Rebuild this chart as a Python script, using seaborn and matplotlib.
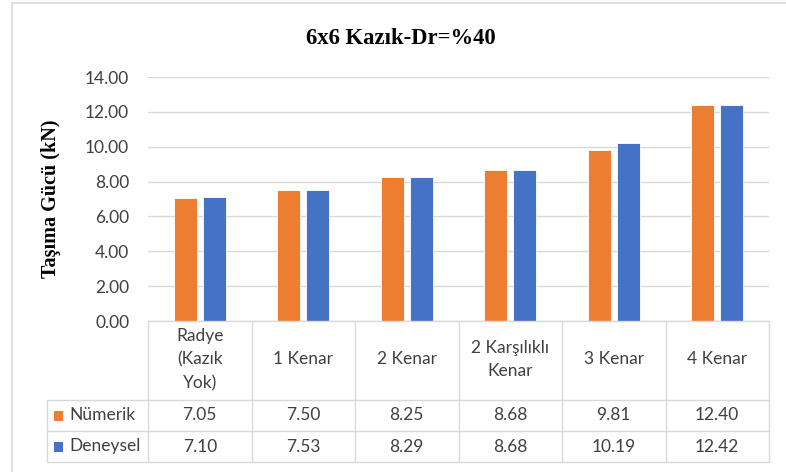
import matplotlib
matplotlib.use("Agg")
import matplotlib.pyplot as plt
import matplotlib.transforms as mtransforms
from matplotlib.patches import Rectangle
from matplotlib.lines import Line2D
import numpy as np
import pandas as pd
import seaborn as sns

# Data
categories = ["Radye\n(Kazık\nYok)", "1 Kenar", "2 Kenar", "2 Karşılıklı\nKenar", "3 Kenar", "4 Kenar"]
numerik = [7.05, 7.50, 8.25, 8.68, 9.81, 12.40]
deneysel = [7.10, 7.53, 8.29, 8.68, 10.19, 12.42]
series_names = ["Nümerik", "Deneysel"]
series_colors = ["#ED7D31", "#4472C4"]
y_ticks = [0, 2, 4, 6, 8, 10, 12, 14]

df = pd.DataFrame({
    "kategori": categories * 2,
    "deger": numerik + deneysel,
    "seri": [series_names[0]] * len(categories) + [series_names[1]] * len(categories),
})

sns.set_style("white")
plt.rcParams["font.family"] = ["Lato", "DejaVu Sans"]

W, H = 786, 472
fig = plt.figure(figsize=(W / 100, H / 100), dpi=100)
fig.patch.set_facecolor("white")

def fx(px):
    return px / W

def fy(py):
    return 1 - py / H

TXT = "#404040"
FS = 12.5
frame_c = "#D9D9D9"

# Chart area frame (top and left edges)
fig.lines.append(Line2D([fx(12), 1.0], [fy(3), fy(3)], transform=fig.transFigure,
                        color=frame_c, linewidth=1.2))
fig.lines.append(Line2D([fx(12), fx(12)], [fy(3), 0.0], transform=fig.transFigure,
                        color=frame_c, linewidth=1.2))

ax = fig.add_axes([fx(148), fy(321), fx(769) - fx(148), fy(77) - fy(321)])
sns.barplot(data=df, x="kategori", y="deger", hue="seri", palette=series_colors,
            width=0.56, gap=0.207, ax=ax, legend=False,
            edgecolor="white", linewidth=0.6, saturation=1)

ax.set_ylim(0, 14)
ax.set_xlim(-0.5, len(categories) - 0.5)
ax.set_yticks(y_ticks)
ax.set_yticklabels([f"{v:.2f}" for v in y_ticks], fontsize=FS, color=TXT)
ax.tick_params(axis="y", length=0, pad=13.5)
ax.set_xticks([])
ax.set_xlabel("")
ax.set_ylabel("")
ax.yaxis.grid(True, color="#D9D9D9", linewidth=1.0)
ax.set_axisbelow(True)
for s in ax.spines.values():
    s.set_visible(False)

fig.text(fx(401), fy(38), "6x6 Kazık-Dr=%40", ha="center", va="center",
         fontsize=16.3, fontweight="bold", family=["Liberation Serif", "DejaVu Serif"],
         color="#000000")
fig.text(fx(51), fy(199), "Taşıma Gücü (kN)", ha="center", va="center", rotation=90,
         fontsize=14.5, fontweight="bold", family=["Liberation Serif", "DejaVu Serif"],
         color="#000000")

# Data table under the plot
tr = mtransforms.blended_transform_factory(ax.transData, fig.transFigure)
grid_c = "#D9D9D9"
y_top, y_head, y_r1, y_r2 = 321, 400, 431, 462
n = len(categories)
x_edges = [i - 0.5 for i in range(n + 1)]
x_left_px = 47

def hline(py, x0_fig, x1_data):
    x1_fig = fig.transFigure.inverted().transform(ax.transData.transform((x1_data, 0)))[0]
    fig.lines.append(Line2D([x0_fig, x1_fig], [fy(py), fy(py)], transform=fig.transFigure,
                            color=grid_c, linewidth=1.0))

hline(y_top, fx(148), x_edges[-1])
for py in (y_head, y_r1, y_r2):
    hline(py, fx(x_left_px), x_edges[-1])
for xe in x_edges:
    fig.lines.append(Line2D([xe, xe], [fy(y_top), fy(y_r2)], transform=tr,
                            color=grid_c, linewidth=1.0))
fig.lines.append(Line2D([fx(x_left_px), fx(x_left_px)], [fy(y_head), fy(y_r2)],
                        transform=fig.transFigure, color=grid_c, linewidth=1.0))

for i, cat in enumerate(categories):
    fig.text(i, fy((y_top + y_head) / 2 - 1), cat, transform=tr, ha="center", va="center",
             fontsize=FS, color=TXT, linespacing=1.6)
    fig.text(i, fy((y_head + y_r1) / 2), f"{numerik[i]:.2f}", transform=tr,
             ha="center", va="center", fontsize=FS, color=TXT)
    fig.text(i, fy((y_r1 + y_r2) / 2), f"{deneysel[i]:.2f}", transform=tr,
             ha="center", va="center", fontsize=FS, color=TXT)

for name, col, (a, b) in zip(series_names, series_colors, [(y_head, y_r1), (y_r1, y_r2)]):
    yc = (a + b) / 2
    fig.patches.append(Rectangle((fx(54), fy(yc + 5)), fx(9), fy(yc - 5) - fy(yc + 5),
                                 transform=fig.transFigure, facecolor=col, edgecolor="none"))
    fig.text(fx(69), fy(yc), name, ha="left", va="center", fontsize=FS, color=TXT)

fig.savefig("out.png", dpi=100, facecolor="white")
